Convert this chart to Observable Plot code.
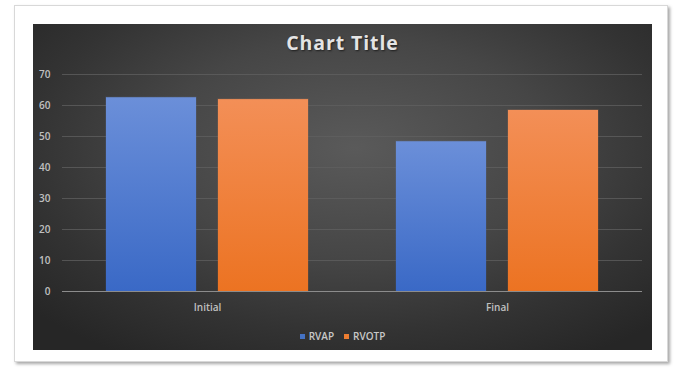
<!DOCTYPE html>
<html>
<head>
<meta charset="utf-8">
<script src="https://cdn.jsdelivr.net/npm/d3@7"></script>
<script src="https://cdn.jsdelivr.net/npm/@observablehq/plot@0.6"></script>
<style>
  html, body { margin: 0; padding: 0; background: #ffffff; width: 674px; height: 368px; overflow: hidden; }
  #card { position: absolute; left: 14px; top: 5px; width: 652px; height: 355px; background: #fff;
          border: 1px solid #d8d8d8; box-shadow: 2px 2px 3px rgba(0,0,0,0.35); }
  #panel { position: absolute; left: 33px; top: 24px; width: 619px; height: 326px; overflow: hidden;
           background: radial-gradient(ellipse 70% 75% at 52% 38%, #5a5a5a 0%, #464646 45%, #333333 75%, #262626 100%); }
  #title { position: absolute; left: 0; width: 619px; top: 5px; text-align: center;
           font-family: "Open Sans", sans-serif; font-weight: 700; font-size: 19.5px; letter-spacing: 0.9px;
           color: #e4e4e4; text-shadow: 1px 1px 2px rgba(0,0,0,0.6); }
  #chart { position: absolute; left: 0; top: 36px; }
  #legend { position: absolute; left: 0; width: 619px; top: 305px; text-align: center;
            font-family: "Open Sans", sans-serif; font-weight: 600; font-size: 10px; color: #c8c8c8; }
  #legend span.item { display: inline-block; margin: 0 5px; }
  #legend span.sw { display: inline-block; width: 5px; height: 5px; margin-right: 4px; vertical-align: 1px; }
</style>
</head>
<body>
<div id="card"></div>
<div id="panel">
  <div id="title">Chart Title</div>
  <div id="chart"></div>
  <div id="legend"></div>
</div>
<script>
const categories = ["Initial", "Final"];
const seriesNames = ["RVAP", "RVOTP"];
const rvapValues = [62.5, 48.3];
const rvotpValues = [61.9, 58.4];
const yTicks = [0, 10, 20, 30, 40, 50, 60, 70];
const seriesColors = ["#4472c4", "#ed7d31"];

const rows = [];
categories.forEach((c, i) => {
  rows.push({category: c, series: seriesNames[0], value: rvapValues[i]});
  rows.push({category: c, series: seriesNames[1], value: rvotpValues[i]});
});

const defs = () => {
  const d = d3.create("svg:defs");
  const grads = [
    {id: "gBlue", top: "#6b8fd9", bottom: "#3a69c6"},
    {id: "gOrange", top: "#f38f57", bottom: "#ec7322"}
  ];
  for (const g of grads) {
    const lg = d.append("linearGradient").attr("id", g.id).attr("x1", 0).attr("y1", 0).attr("x2", 0).attr("y2", 1);
    lg.append("stop").attr("offset", "0%").attr("stop-color", g.top);
    lg.append("stop").attr("offset", "100%").attr("stop-color", g.bottom);
  }
  return d.node();
};

const chart = Plot.plot({
  width: 619,
  height: 270,
  marginLeft: 29,
  marginRight: 10,
  marginTop: 14,
  marginBottom: 39,
  style: {background: "transparent", color: "#c0c0c0", fontFamily: "'Open Sans', sans-serif", fontSize: "10px", fontWeight: 600},
  fx: {domain: categories, padding: 0, label: null, axis: "bottom", tickSize: 0, tickPadding: 12},
  x: {domain: seriesNames, paddingInner: 0.2, paddingOuter: 0.39, axis: null},
  y: {domain: [0, 70], ticks: yTicks, label: null, tickSize: 0, tickPadding: 12, tickFormat: d3.format("d")},
  color: {domain: seriesNames, range: ["url(#gBlue)", "url(#gOrange)"]},
  marks: [
    defs,
    Plot.gridY(yTicks.filter(t => t > 0), {stroke: "#606060", strokeOpacity: 0.75}),
    Plot.barY(rows, {fx: "category", x: "series", y: "value", fill: "series", stroke: "series", strokeOpacity: 0.25}),
    Plot.ruleY([0], {stroke: "#8c8c8c", strokeWidth: 1.2})
  ]
});
document.getElementById("chart").appendChild(chart);

const legend = document.getElementById("legend");
seriesNames.forEach((s, i) => {
  const item = document.createElement("span");
  item.className = "item";
  const sw = document.createElement("span");
  sw.className = "sw";
  sw.style.background = seriesColors[i];
  item.appendChild(sw);
  item.appendChild(document.createTextNode(s));
  legend.appendChild(item);
});
</script>
</body>
</html>
